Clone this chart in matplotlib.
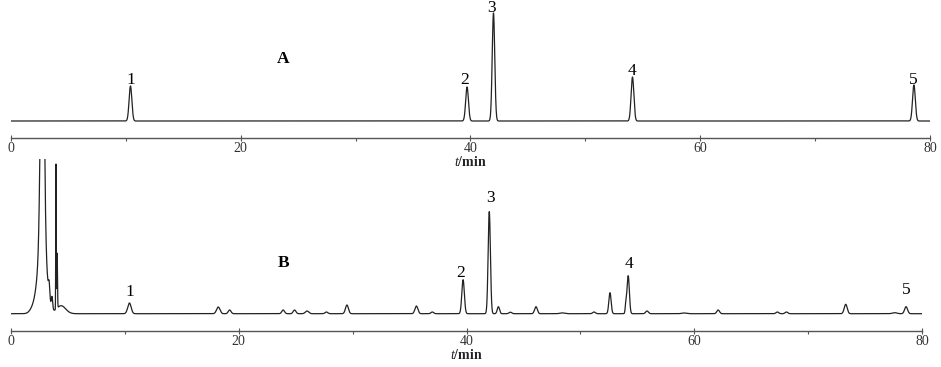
import numpy as np
import matplotlib.pyplot as plt

plt.rcParams['font.family'] = ['Liberation Serif', 'DejaVu Serif']
plt.rcParams['mathtext.fontset'] = 'custom'
plt.rcParams['mathtext.it'] = 'Liberation Serif:italic'
plt.rcParams['mathtext.rm'] = 'Liberation Serif'

# Chromatogram A (standards): retention time (min), peak height, width (sigma, min)
times_A = [10.4, 39.7, 42.0, 54.1, 78.6]
heights_A = [35, 34, 108, 44, 36]
widths_A = [0.12, 0.12, 0.11, 0.12, 0.12]
labels_A = ['1', '2', '3', '4', '5']

# Chromatogram B (sample)
times_B = [2.0, 2.75, 2.75, 3.35, 3.6, 3.95, 4.05, 4.4,
           10.4, 18.2, 19.2, 23.9, 24.9, 26.0, 27.7, 29.5, 35.6, 37.0,
           39.7, 42.0, 42.8, 43.85, 46.1, 48.4, 51.2, 52.6, 54.0, 54.2,
           55.85, 59.1, 62.1, 67.3, 68.1, 73.3, 77.6, 78.6]
heights_B = [6, 80, 260, 14, 12, 145, 55, 8,
             10.7, 6.7, 3.7, 3.7, 3.7, 2.7, 1.7, 8.7, 7.7, 1.7,
             34, 102, 7, 1.5, 7, 0.8, 1.7, 21, 9, 38,
             2.7, 0.7, 3.7, 1.7, 1.7, 9.4, 1.0, 7]
widths_B = [0.3, 0.35, 0.15, 0.06, 0.06, 0.02, 0.03, 0.4,
            0.15, 0.15, 0.12, 0.12, 0.12, 0.15, 0.12, 0.13, 0.13, 0.12,
            0.11, 0.1, 0.1, 0.12, 0.12, 0.2, 0.12, 0.1, 0.06, 0.1,
            0.12, 0.2, 0.12, 0.12, 0.12, 0.13, 0.2, 0.13]
peak_times_B = [10.4, 39.7, 42.0, 54.2, 78.6]
peak_heights_B = [10.7, 34, 102, 41, 7]
labels_B = ['1', '2', '3', '4', '5']

t = np.linspace(0, 80, 16001)


def trace(times, heights, widths):
    y = np.zeros_like(t)
    for c, h, w in zip(times, heights, widths):
        y += h * np.exp(-0.5 * ((t - c) / w) ** 2)
    return y


fig = plt.figure(figsize=(9.41, 3.67), dpi=100)
ax1 = fig.add_axes([11 / 941, 1 - 138.3 / 367, 919 / 941, 138.3 / 367])
ax2 = fig.add_axes([11 / 941, 1 - 331 / 367, 911 / 941, 172 / 367])

ax1.plot(t, trace(times_A, heights_A, widths_A), color='#222222', lw=0.9)
ax2.plot(t, trace(times_B, heights_B, widths_B), color='#222222', lw=0.9)

ax1.set_ylim(-17.3, 121)
ax2.set_ylim(-17.3, 154.7)

# peak number labels (offsets above each peak)
off_A = [2, 3, 0.5, 2, 1]
dx_A = [0, -0.25, -0.2, 0, -0.1]
for c, h, lab, o, d in zip(times_A, heights_A, labels_A, off_A, dx_A):
    ax1.text(c + d, h + o, lab, ha='center', va='baseline', fontsize=12.5)
off_B = [7, 3, 10, 5, 13]
dx_B = [0, -0.25, 0.1, 0.1, 0]
for c, h, lab, o, d in zip(peak_times_B, peak_heights_B, labels_B, off_B, dx_B):
    ax2.text(c + d, h + o, lab, ha='center', va='baseline', fontsize=12.5)

ax1.text(23.7, 58, 'A', ha='center', va='baseline', fontsize=12.5, fontweight='bold')
ax2.text(23.9, 47, 'B', ha='center', va='baseline', fontsize=12.5, fontweight='bold')

for ax in (ax1, ax2):
    ax.set_xlim(0, 80)
    for s in ('left', 'right', 'top'):
        ax.spines[s].set_visible(False)
    ax.spines['bottom'].set_color('#555555')
    ax.spines['bottom'].set_linewidth(1.0)
    ax.set_yticks([])
    ax.set_xticks([0, 20, 40, 60, 80])
    ax.set_xticks([10, 30, 50, 70], minor=True)
    ax.tick_params(axis='x', which='major', direction='inout', length=4,
                   width=0.8, color='#555555', labelsize=10, labelcolor='#333333', pad=1)
    ax.tick_params(axis='x', which='minor', direction='out', length=2,
                   width=0.8, color='#555555')
    ax.patch.set_visible(False)
    ax.set_xlabel(r'$t$/min', fontsize=10, fontweight='bold', labelpad=0, color='#222222')

fig.savefig('out.png', dpi=100)
